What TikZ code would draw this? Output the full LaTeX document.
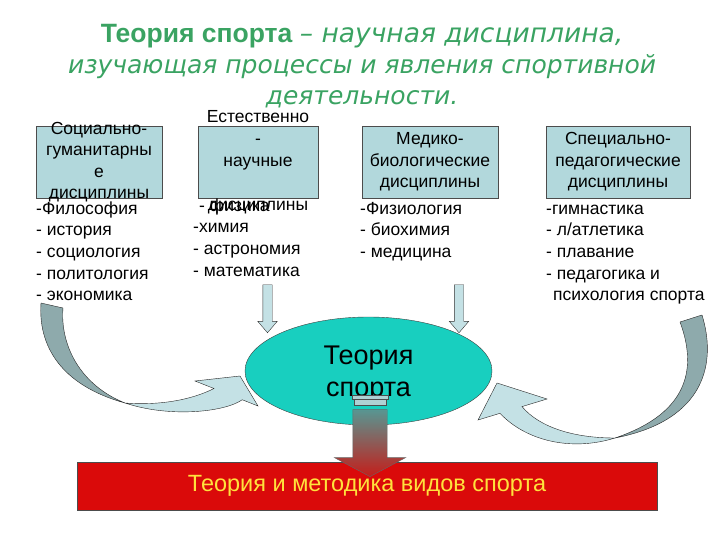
\documentclass[tikz,border=0pt]{standalone}
\usepackage{fontspec}
\setmainfont{Liberation Sans}
\newfontfamily\slogan{DejaVu Sans}
\usetikzlibrary{positioning}
\usetikzlibrary{arrows,shapes}
\usetikzlibrary{calc}
\definecolor{titlegreen}{RGB}{58,163,98}
\definecolor{boxblue}{RGB}{178,216,220}
\definecolor{arrowlight}{RGB}{196,225,229}
\definecolor{arrowdark}{RGB}{142,170,172}
\definecolor{theorycyan}{RGB}{24,207,191}
\definecolor{methodred}{RGB}{218,10,10}
\definecolor{methodyellow}{RGB}{255,226,60}
\definecolor{captop}{RGB}{88,150,146}
\definecolor{capred}{RGB}{196,30,26}
\tikzstyle{titleline}=[anchor=base,inner sep=0pt,text=titlegreen,font=\fontsize{25}{30}\selectfont]
\tikzstyle{discbox}=[rectangle,draw=black!70,fill=boxblue,minimum height=72pt,inner sep=0pt]
\tikzstyle{boxtext}=[align=center,inner sep=0pt,font=\fontsize{17.5}{21.5}\selectfont]
\tikzstyle{listitem}=[anchor=base west,inner sep=0pt,font=\fontsize{17.5}{21.5}\selectfont]
\tikzstyle{smallarrow}=[single arrow,draw=black!80,fill=arrowlight,shape border rotate=270,inner sep=4.5pt,minimum height=48pt,single arrow head extend=5pt,single arrow tip angle=81]
\tikzstyle{bigarrow}=[single arrow,draw=black!60,top color=captop,bottom color=capred,shape border rotate=270,inner sep=17pt,minimum height=67pt,single arrow head extend=18.5pt,single arrow tip angle=124]
\tikzstyle{capbar}=[rectangle,draw=black!70,fill=arrowlight!80!captop,inner sep=0pt]
\tikzstyle{benddark}=[draw=black!85,fill=arrowdark,line join=round]
\tikzstyle{bendlight}=[draw=black!85,fill=arrowlight,line join=miter]
\tikzstyle{theoryoval}=[ellipse,draw=black!75,fill=theorycyan,minimum width=247pt,minimum height=108pt,inner sep=0pt]
\tikzstyle{methodbox}=[rectangle,draw=black!70,fill=methodred,text=methodyellow,minimum width=580pt,minimum height=48pt,font=\fontsize{23.5}{27}\selectfont]

\begin{document}
\begin{tikzpicture}[x=1pt,y=-1pt]
\useasboundingbox (0,0) rectangle (720,540);

%Title
    \node[titleline,font=\fontsize{26.5}{30}\selectfont] (title1) at (362,43) {\textbf{Теория спорта} {\slogan\itshape – научная дисциплина,}};
    \node[titleline] (title2) at (362,74) {\slogan\itshape изучающая процессы и явления спортивной};
    \node[titleline] (title3) at (362,105) {\slogan\itshape деятельности.};

%Disciplines
    \foreach \pos/\name/\w in {{(99,162)/soc/126}, {(258,162)/nat/120}, {(430,162)/med/136}, {(618,162)/ped/144}}
        \node[discbox,minimum width=\w pt] (\name) at \pos {};

    \node[boxtext] (soctext) at (soc.center) {Социально-\\гуманитарны\\е\\дисциплины};
    \node[boxtext,font=\fontsize{17.5}{22}\selectfont] (nattext) at (nat.center) {Естественно\\-\\научные\\\mbox{}\\дисциплины};
    \node[boxtext] (medtext) at (med.center) {Медико-\\биологические\\дисциплины};
    \node[boxtext] (pedtext) at (ped.center) {Специально-\\педагогические\\дисциплины};

%Lists
    \foreach \txt [count=\i] in {-Философия, - история, - социология, - политология, - экономика}
        \node[listitem] (socitem\i) at (36,193+21.5*\i) {\txt};
    \foreach \x/\txt [count=\i] in {199/- физика, 193/-химия, 193/- астрономия, 193/- математика}
        \node[listitem] (natitem\i) at (\x,190+21.5*\i) {\txt};
    \foreach \txt [count=\i] in {-Физиология, - биохимия, - медицина}
        \node[listitem] (meditem\i) at (360,193+21.5*\i) {\txt};
    \foreach \x/\txt [count=\i] in {546/{-гимнастика}, 546/{- л/атлетика}, 546/{- плавание}, 546/{- педагогика и}, 553/{психология спорта}}
        \node[listitem] (peditem\i) at (\x,193+21.5*\i) {\txt};

%Arrows
    \node[smallarrow] (natarrow) at (267.5,306) {};
    \node[smallarrow] (medarrow) at (459,306) {};

    \draw[benddark] (41,303) .. controls (38,345) and (60,385) .. (125,403) .. controls (80,385) and (60,345) .. (63,308) -- cycle;
    \draw[bendlight] (125,403) .. controls (170,418) and (225,412) .. (242.25,399.75) -- (258,406) -- (240,376) -- (195,381) -- (214,388.5) .. controls (185,403) and (150,405) .. (125,403) -- cycle;

    \draw[benddark] (702,315) .. controls (716,360) and (708,420) .. (615,438) .. controls (692,412) and (696,365) .. (680,322) -- cycle;
    \draw[bendlight] (615,438) .. controls (570,452) and (525,440) .. (500,413.3) -- (478,420) -- (497,383) -- (547,399) -- (522,406.6) .. controls (540,428) and (575,438) .. (615,438) -- cycle;

%Theory
    \node[theoryoval] (theory) at (368.5,371) {};
    \node[align=center,inner sep=0pt,font=\fontsize{27}{32}\selectfont] (theorytext) at ([yshift=-3pt]theory.center) {Теория\\спорта};

    \node[methodbox] (method) at (367,486) {Теория и методика видов спорта};

    \node[bigarrow] (down) at (370,438.5) {};
    \node[capbar,minimum width=32pt,minimum height=6pt] (capB) at (370,402) {};
    \node[capbar,minimum width=36pt,minimum height=4pt] (capA) at (370,397) {};

\end{tikzpicture}
\end{document}
